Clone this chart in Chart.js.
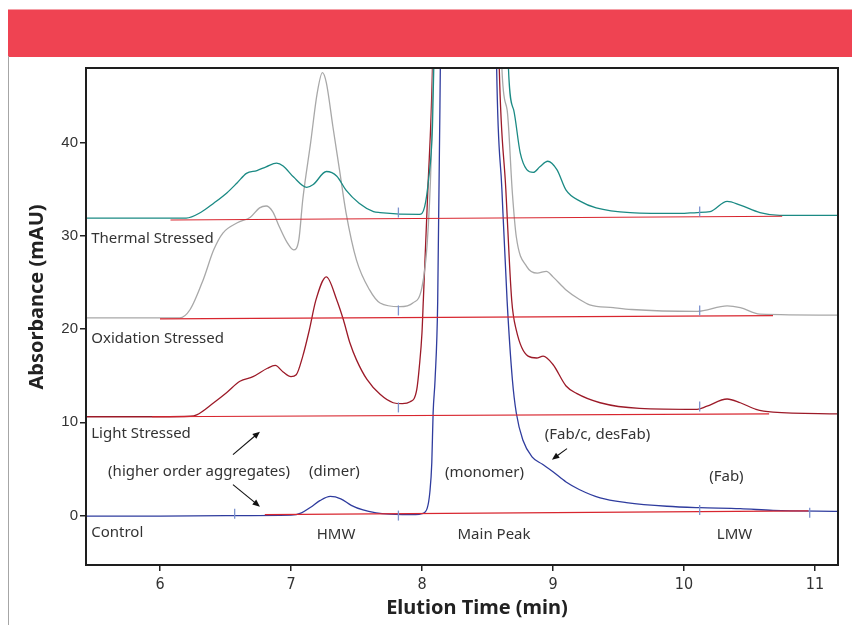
<!DOCTYPE html>
<html>
<head>
<meta charset="utf-8">
<script src="https://cdn.jsdelivr.net/npm/chart.js@4.4.0/dist/chart.umd.min.js"></script>
<style>
  html, body { margin: 0; padding: 0; background: #fff; }
  #wrap { position: relative; width: 852px; height: 625px; overflow: hidden; }
  #banner { position: absolute; left: 8px; top: 9px; width: 844px; height: 47px; background: #ef4352; border-top: 1px solid #f4a0a7; }
  #edge { position: absolute; left: 8px; top: 56px; width: 1px; height: 569px; background: #a6a6a6; }
  canvas { position: absolute; left: 0; top: 0; }
</style>
</head>
<body>
<div id="wrap">
  <div id="banner"></div>
  <div id="edge"></div>
  <canvas id="chromChart" width="852" height="625"></canvas>
</div>
<script>
// tick labels
const xTicks = [6, 7, 8, 9, 10, 11];
const yTicks = [0, 10, 20, 30, 40];

// Control trace (min / mAU) - main peak goes off the top of the plot
const controlTime = [5.44, 6.0, 6.5, 7.0, 7.08, 7.15, 7.22, 7.30, 7.38, 7.46, 7.55, 7.65, 7.75, 7.85, 7.95, 8.0, 8.04, 8.06, 8.075, 8.085, 8.10, 8.12, 8.14, 8.18, 8.35, 8.52, 8.57, 8.61, 8.65, 8.69, 8.72, 8.77, 8.84, 8.92, 9.0, 9.1, 9.2, 9.36, 9.56, 9.87, 10.12, 10.43, 10.68, 11.18];
const controlAbs  = [-0.05, -0.05, 0.0, 0.05, 0.3, 0.9, 1.6, 2.05, 1.8, 1.1, 0.6, 0.3, 0.15, 0.1, 0.1, 0.2, 0.8, 2.5, 5.7, 11, 14.6, 23, 48, 110, 250, 110, 48, 35, 23, 14.6, 11.0, 8.1, 6.3, 5.5, 4.7, 3.6, 2.8, 1.9, 1.4, 1.0, 0.85, 0.75, 0.55, 0.45];

// Light stressed trace
const lightTime = [5.44, 6.0, 6.23, 6.28, 6.41, 6.51, 6.61, 6.71, 6.82, 6.88, 6.94, 7.0, 7.04, 7.09, 7.14, 7.19, 7.27, 7.35, 7.40, 7.45, 7.50, 7.58, 7.68, 7.78, 7.85, 7.91, 7.96, 7.98, 8.0, 8.01, 8.045, 8.08, 8.15, 8.35, 8.5, 8.59, 8.64, 8.685, 8.72, 8.81, 8.875, 8.925, 9.0, 9.10, 9.18, 9.36, 9.66, 10.10, 10.17, 10.33, 10.43, 10.55, 10.68, 11.18];
const lightAbs  = [10.6, 10.6, 10.65, 10.8, 12.1, 13.2, 14.4, 14.9, 15.8, 16.1, 15.4, 14.9, 15.1, 17.1, 19.9, 23.1, 25.6, 23.1, 21.0, 18.5, 16.7, 14.6, 13.0, 12.1, 12.0, 12.2, 13.5, 16.0, 19.6, 23.0, 35, 48, 110, 220, 120, 48, 35, 23.1, 19.9, 17.1, 16.9, 17.1, 16.2, 13.9, 13.1, 12.1, 11.5, 11.4, 11.7, 12.5, 12.1, 11.4, 11.1, 10.9];

// Oxidation stressed trace
const oxidTime = [5.44, 6.15, 6.23, 6.33, 6.41, 6.48, 6.59, 6.69, 6.76, 6.81, 6.86, 6.91, 6.97, 7.02, 7.06, 7.09, 7.15, 7.20, 7.24, 7.27, 7.32, 7.37, 7.42, 7.50, 7.60, 7.68, 7.83, 7.93, 8.0, 8.04, 8.07, 8.085, 8.15, 8.35, 8.55, 8.61, 8.65, 8.69, 8.72, 8.80, 8.88, 8.95, 9.0, 9.1, 9.2, 9.28, 9.46, 9.6, 10.1, 10.33, 10.43, 10.58, 11.18];
const oxidAbs  = [21.2, 21.2, 22.1, 25.3, 28.5, 30.3, 31.4, 32.0, 33.0, 33.2, 32.6, 31.0, 29.3, 28.5, 29.6, 33.9, 40.0, 45.3, 47.5, 46.4, 41.7, 37.1, 32.5, 27.4, 24.2, 22.8, 22.4, 22.8, 24.5, 29.2, 38.2, 48, 110, 220, 110, 48, 43.5, 34.6, 29.9, 26.7, 26.0, 26.2, 25.6, 24.2, 23.2, 22.6, 22.3, 22.1, 21.9, 22.5, 22.3, 21.6, 21.5];

// Thermal stressed trace
const thermTime = [5.44, 6.2, 6.31, 6.41, 6.51, 6.59, 6.66, 6.74, 6.81, 6.89, 6.94, 7.02, 7.12, 7.17, 7.27, 7.35, 7.42, 7.52, 7.63, 7.68, 7.98, 8.02, 8.05, 8.08, 8.09, 8.15, 8.4, 8.6, 8.66, 8.70, 8.75, 8.80, 8.85, 8.90, 8.96, 9.03, 9.10, 9.21, 9.33, 9.59, 9.97, 10.10, 10.20, 10.33, 10.43, 10.58, 10.73, 11.18];
const thermAbs  = [31.9, 31.9, 32.5, 33.5, 34.6, 35.7, 36.7, 37.0, 37.4, 37.8, 37.5, 36.3, 35.2, 35.5, 36.9, 36.4, 34.9, 33.5, 32.6, 32.5, 32.3, 33.1, 36.0, 41.7, 48, 110, 220, 110, 48, 43.5, 38.9, 37.1, 36.8, 37.4, 38.0, 37.1, 34.9, 33.7, 33.0, 32.5, 32.4, 32.5, 32.6, 33.7, 33.3, 32.5, 32.2, 32.2];

// integration baselines (start / end)
const thermBaseTime = [6.08, 10.75];
const thermBaseAbs  = [31.7, 32.1];
const oxidBaseTime  = [6.0, 10.68];
const oxidBaseAbs   = [21.1, 21.45];
const lightBaseTime = [5.94, 10.65];
const lightBaseAbs  = [10.6, 10.9];
const controlBaseTime = [6.8, 10.95];
const controlBaseAbs  = [0.1, 0.5];

// integration event marks
const markTime = [7.82, 10.12, 7.82, 10.12, 7.82, 10.12, 6.57, 7.82, 10.12, 10.96];
const markAbs  = [32.5, 32.6, 22.0, 22.0, 11.6, 11.7, 0.2, 0.0, 0.6, 0.3];

// annotation text and anchors (min / mAU, text baseline)
const labelText = ['Thermal Stressed', 'Oxidation Stressed', 'Light Stressed', 'Control',
  '(higher order aggregates)', '(dimer)', '(monomer)', '(Fab/c, desFab)', '(Fab)', 'HMW', 'Main Peak', 'LMW'];
const labelTime = [5.475, 5.475, 5.475, 5.475, 6.298, 7.332, 8.477, 9.34, 10.324, 7.344, 8.55, 10.386];
const labelAbs  = [29.26, 18.54, 8.36, -2.25, 4.29, 4.29, 4.18, 8.25, 3.75, -2.47, -2.47, -2.47];
const labelAlign = ['left', 'left', 'left', 'left', 'center', 'center', 'center', 'center', 'center', 'center', 'center', 'center'];

// arrows: from -> to (head at "to")
const arrowFromTime = [6.557, 6.557, 9.107];
const arrowFromAbs  = [6.54, 3.32, 7.18];
const arrowToTime   = [6.763, 6.763, 8.992];
const arrowToAbs    = [9.0, 0.96, 6.0];

function pts(ts, vs) {
  return ts.map((t, i) => ({ x: t, y: vs[i] }));
}

function trace(ts, vs, color) {
  return {
    data: pts(ts, vs),
    borderColor: color,
    borderWidth: 1.3,
    pointRadius: 0,
    cubicInterpolationMode: 'monotone',
    order: 2
  };
}

function baseLine(ts, vs) {
  return { data: pts(ts, vs), borderColor: '#d8262f', borderWidth: 1.2, pointRadius: 0, order: 1 };
}

const textFont = '15px "Noto Sans", "Open Sans", sans-serif';

const annotationPlugin = {
  id: 'chromAnnotations',
  afterDatasetsDraw(chart) {
    const ctx = chart.ctx;
    const xs = chart.scales.x, ys = chart.scales.y;
    const a = chart.chartArea;

    ctx.save();
    // frame
    ctx.strokeStyle = '#1e1e1e';
    ctx.lineWidth = 2;
    ctx.strokeRect(a.left, a.top, a.right - a.left, a.bottom - a.top);

    // labels
    ctx.fillStyle = '#333';
    ctx.font = textFont;
    ctx.textBaseline = 'alphabetic';
    labelText.forEach((txt, i) => {
      ctx.textAlign = labelAlign[i];
      ctx.fillText(txt, xs.getPixelForValue(labelTime[i]), ys.getPixelForValue(labelAbs[i]));
    });

    // arrows
    ctx.strokeStyle = '#111';
    ctx.fillStyle = '#111';
    ctx.lineWidth = 1.1;
    arrowFromTime.forEach((t, i) => {
      const x1 = xs.getPixelForValue(t), y1 = ys.getPixelForValue(arrowFromAbs[i]);
      const x2 = xs.getPixelForValue(arrowToTime[i]), y2 = ys.getPixelForValue(arrowToAbs[i]);
      const ang = Math.atan2(y2 - y1, x2 - x1);
      ctx.beginPath();
      ctx.moveTo(x1, y1);
      ctx.lineTo(x2 - 4 * Math.cos(ang), y2 - 4 * Math.sin(ang));
      ctx.stroke();
      ctx.beginPath();
      ctx.moveTo(x2, y2);
      ctx.lineTo(x2 - 8 * Math.cos(ang - 0.4), y2 - 8 * Math.sin(ang - 0.4));
      ctx.lineTo(x2 - 8 * Math.cos(ang + 0.4), y2 - 8 * Math.sin(ang + 0.4));
      ctx.closePath();
      ctx.fill();
    });

    // axis titles
    ctx.fillStyle = '#222';
    ctx.font = 'bold 20px "Noto Sans", "Open Sans", sans-serif';
    ctx.textAlign = 'center';
    ctx.textBaseline = 'middle';
    ctx.fillText('Elution Time (min)', 477, 608);
    ctx.translate(37, 297);
    ctx.rotate(-Math.PI / 2);
    ctx.fillText('Absorbance (mAU)', 0, 0);
    ctx.restore();
  }
};

const chart = new Chart(document.getElementById('chromChart'), {
  type: 'line',
  data: {
    datasets: [
      baseLine(thermBaseTime, thermBaseAbs),
      baseLine(oxidBaseTime, oxidBaseAbs),
      baseLine(lightBaseTime, lightBaseAbs),
      baseLine(controlBaseTime, controlBaseAbs),
      {
        data: pts(markTime, markAbs),
        showLine: false,
        pointStyle: 'line',
        rotation: 90,
        pointRadius: 5,
        pointBorderWidth: 1.3,
        pointBorderColor: '#7d93cf',
        borderColor: '#7d93cf',
        order: 0
      },
      trace(thermTime, thermAbs, '#1b8a84'),
      trace(oxidTime, oxidAbs, '#a8a8a8'),
      trace(lightTime, lightAbs, '#9c1a28'),
      trace(controlTime, controlAbs, '#2f3c9e')
    ]
  },
  options: {
    responsive: false,
    animation: false,
    layout: { padding: { top: 68, right: 14, left: 0, bottom: 0 } },
    plugins: { legend: { display: false }, tooltip: { enabled: false } },
    scales: {
      x: {
        type: 'linear',
        min: 5.435,
        max: 11.176,
        afterBuildTicks: s => { s.ticks = xTicks.map(v => ({ value: v })); },
        afterFit: s => { s.height = 60; },
        grid: { drawOnChartArea: false, drawTicks: true, tickLength: 6, color: '#222', lineWidth: 1.5 },
        border: { display: true, color: '#222', width: 2 },
        ticks: {
          autoSkip: false, maxRotation: 0, padding: 4, color: '#333',
          font: { family: '"Liberation Sans Narrow", "DejaVu Sans Condensed", sans-serif', size: 16 }
        }
      },
      y: {
        type: 'linear',
        min: -5.3,
        max: 48,
        afterBuildTicks: s => { s.ticks = yTicks.map(v => ({ value: v })); },
        afterFit: s => { s.width = 86; },
        grid: { drawOnChartArea: false, drawTicks: true, tickLength: 6, color: '#222', lineWidth: 1.5 },
        border: { display: true, color: '#222', width: 2 },
        ticks: {
          padding: 2, color: '#333',
          font: { family: '"Liberation Sans", Arial, sans-serif', size: 15 }
        }
      }
    }
  },
  plugins: [annotationPlugin]
});
</script>
</body>
</html>
